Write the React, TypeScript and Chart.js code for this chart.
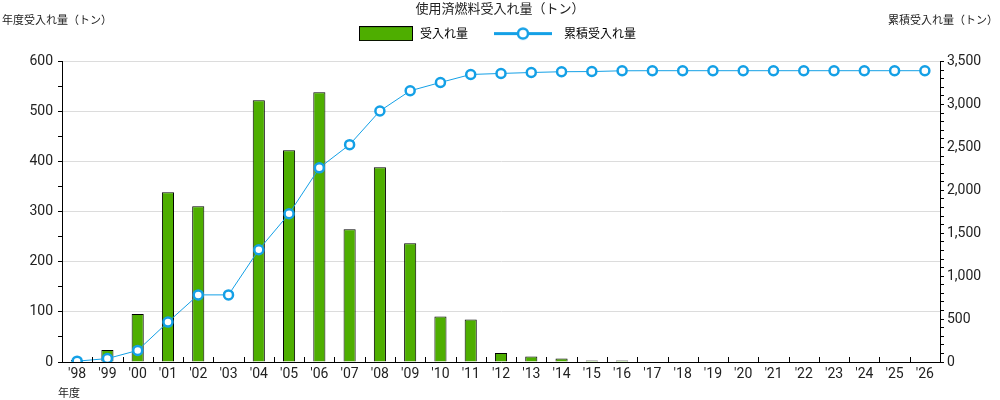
import { useRef, useEffect } from "react";
import { Chart, registerables, Plugin } from "chart.js";

Chart.register(...registerables);

const years = [
  "'98", "'99", "'00", "'01", "'02", "'03", "'04", "'05", "'06", "'07",
  "'08", "'09", "'10", "'11", "'12", "'13", "'14", "'15", "'16", "'17",
  "'18", "'19", "'20", "'21", "'22", "'23", "'24", "'25", "'26",
];

// 年度受入れ量（トン）
const annual = [
  4, 24, 96, 339, 311, 0, 523, 423, 539, 265,
  389, 237, 91, 85, 18, 11, 7, 3, 3, 0,
  0, 0, 0, 0, 0, 0, 0, 0, 0,
];

// 累積受入れ量（トン）
const cumulative = [
  10, 40, 135, 465, 782, 782, 1308, 1727, 2262, 2532,
  2925, 3160, 3257, 3350, 3362, 3373, 3382, 3384, 3393, 3394,
  3394, 3394, 3394, 3394, 3394, 3394, 3394, 3394, 3394,
];

const GREEN = "#4eae00";
const BLUE = "#14a0e6";
const FONT = "Roboto, 'Noto Sans CJK JP', sans-serif";
const JP_FONT = "'Noto Sans CJK JP', Roboto, sans-serif";
const SWATCH_W = 80;

// legend swatches drawn as small canvases (transparent on the left for spacing)
const makeBarSwatch = () => {
  const c = document.createElement("canvas");
  c.width = SWATCH_W;
  c.height = 15;
  const g = c.getContext("2d")!;
  g.fillStyle = GREEN;
  g.fillRect(25.5, 0.5, 53, 14);
  g.strokeStyle = "#000";
  g.lineWidth = 1;
  g.strokeRect(25.5, 0.5, 53, 14);
  return c;
};

const makeLineSwatch = () => {
  const c = document.createElement("canvas");
  c.width = SWATCH_W;
  c.height = 15;
  const g = c.getContext("2d")!;
  g.strokeStyle = BLUE;
  g.lineWidth = 3;
  g.beginPath();
  g.moveTo(16, 7.5);
  g.lineTo(74, 7.5);
  g.stroke();
  g.fillStyle = "#fff";
  g.lineWidth = 2.5;
  g.beginPath();
  g.arc(45, 7.5, 5, 0, Math.PI * 2);
  g.fill();
  g.stroke();
  return c;
};

// extra space under the legend, and shift items left to centre the visible swatches
const legendMargin: Plugin = {
  id: "legendMargin",
  beforeInit(chart) {
    const legend = chart.legend as any;
    if (!legend) return;
    const fit = legend.fit;
    legend.fit = function () {
      fit.bind(legend)();
      this.height += 12;
      if (this.lineWidths) {
        this.lineWidths = this.lineWidths.map((w: number) => w + 30);
      }
    };
  },
};

const axisExtras: Plugin = {
  id: "axisExtras",
  afterDraw(chart) {
    const { ctx, chartArea } = chart;
    const x = chart.scales.x;
    ctx.save();
    // inward ticks between categories
    ctx.strokeStyle = "#000";
    ctx.lineWidth = 1;
    ctx.beginPath();
    for (let i = 1; i < years.length; i++) {
      const px = Math.round(x.getPixelForValue(i - 0.5)) + 0.5;
      ctx.moveTo(px, chartArea.bottom);
      ctx.lineTo(px, chartArea.bottom - 5);
    }
    ctx.stroke();

    // axis titles
    ctx.fillStyle = "#222";
    ctx.font = `11px ${JP_FONT}`;
    ctx.textBaseline = "middle";
    ctx.textAlign = "left";
    ctx.fillText("年度受入れ量（トン）", 2, 20);
    ctx.textAlign = "right";
    ctx.fillText("累積受入れ量（トン）", 998, 20);
    ctx.textAlign = "left";
    ctx.fillText("年度", 58, 393);
    ctx.restore();
  },
};

export default function App() {
  const chartRef = useRef<HTMLCanvasElement>(null);

  useEffect(() => {
    if (!chartRef.current) return;
    const context = chartRef.current.getContext("2d");
    if (!context) return;

    const barSwatch = makeBarSwatch();
    const lineSwatch = makeLineSwatch();

    const chart = new Chart(context, {
      type: "bar",
      data: {
        labels: years,
        datasets: [
          {
            type: "bar",
            label: "受入れ量",
            data: annual,
            backgroundColor: GREEN,
            borderColor: "#000",
            borderWidth: 1,
            categoryPercentage: 1,
            barPercentage: 0.4,
            yAxisID: "y",
            order: 1,
          },
          {
            type: "line",
            label: "累積受入れ量",
            data: cumulative,
            borderColor: BLUE,
            borderWidth: 1,
            pointRadius: 4.5,
            pointBorderWidth: 2.5,
            pointBackgroundColor: "#fff",
            pointBorderColor: BLUE,
            tension: 0,
            yAxisID: "y1",
            order: 0,
          } as any,
        ],
      },
      options: {
        animation: false,
        responsive: false,
        layout: { padding: { top: 0, left: 0, right: 0, bottom: 0 } },
        plugins: {
          title: {
            display: true,
            text: "使用済燃料受入れ量（トン）",
            color: "#222",
            font: { family: JP_FONT, size: 13, weight: "normal" },
            padding: { top: 0, bottom: 2 },
          },
          legend: {
            display: true,
            labels: {
              usePointStyle: true,
              pointStyleWidth: SWATCH_W,
              padding: 10,
              color: "#222",
              font: { family: JP_FONT, size: 12 },
              generateLabels: (ch) =>
                ch.data.datasets.map((ds, i) => ({
                  text: ds.label as string,
                  datasetIndex: i,
                  pointStyle: i === 0 ? barSwatch : lineSwatch,
                  fillStyle: "transparent",
                  strokeStyle: "transparent",
                  lineWidth: 0,
                  hidden: false,
                })),
            },
          },
          tooltip: { enabled: false },
        },
        scales: {
          x: {
            type: "category",
            offset: true,
            grid: { drawOnChartArea: false, drawTicks: false },
            border: { color: "#000", width: 1 },
            ticks: {
              color: "#222",
              font: { family: FONT, size: 14 },
              padding: 4,
              autoSkip: false,
              maxRotation: 0,
            },
            afterFit: (s) => {
              s.height = 38;
            },
          },
          y: {
            position: "left",
            min: 0,
            max: 600,
            ticks: {
              stepSize: 50,
              color: "#222",
              font: { family: FONT, size: 14 },
              padding: 5,
              callback: (v) => (Number(v) % 100 === 0 ? String(v) : ""),
            },
            grid: {
              color: (c) =>
                c.tick && c.tick.value % 100 === 0 && c.tick.value !== 0
                  ? "#dcdcdc"
                  : "transparent",
              tickColor: "#000",
              tickLength: 4,
            },
            border: { color: "#000", width: 1 },
            afterFit: (s) => {
              s.width = 62;
            },
          },
          y1: {
            position: "right",
            min: 0,
            max: 3500,
            ticks: {
              stepSize: 100,
              autoSkip: false,
              color: "#222",
              font: { family: FONT, size: 14 },
              padding: 3,
              callback: (v) =>
                Number(v) % 500 === 0 ? Number(v).toLocaleString("en-US") : "",
            },
            grid: {
              drawOnChartArea: false,
              tickColor: "#000",
              tickLength: 4,
            },
            border: { color: "#000", width: 1 },
            afterFit: (s) => {
              s.width = 60;
            },
          },
        },
      },
      plugins: [legendMargin, axisExtras],
    });

    return () => {
      chart.destroy();
    };
  }, []);

  return (
    <div style={{ position: "absolute", left: 0, top: 0, width: 1000, height: 400 }}>
      <canvas ref={chartRef} width={1000} height={400} />
    </div>
  );
}
